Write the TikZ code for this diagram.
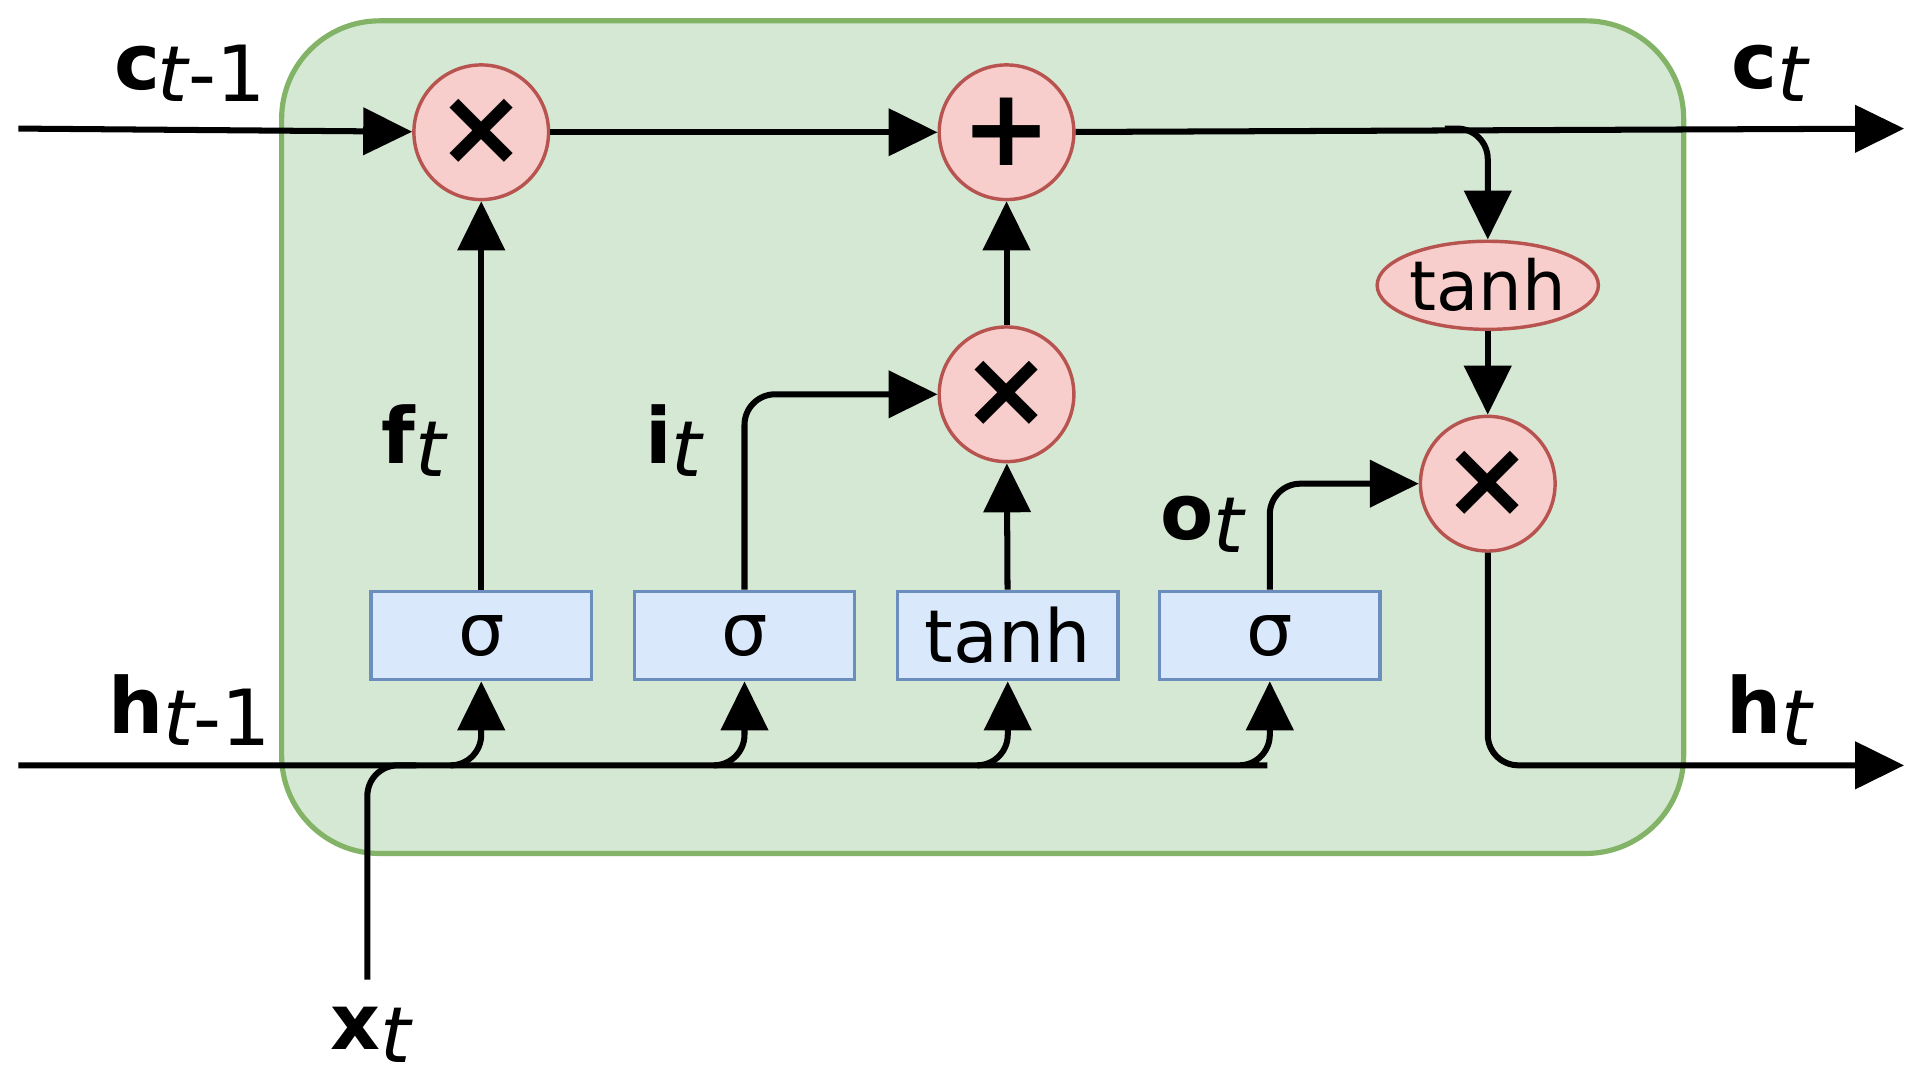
\documentclass[tikz,border=0pt]{standalone}
\usepackage{fontspec}
\setmainfont{DejaVu Sans}
\usetikzlibrary{arrows.meta,shapes.geometric}
\begin{document}
\begin{tikzpicture}[x=0.02cm,y=-0.02cm,
  ln/.style={line width=2.8pt,rounded corners=0.5cm},
  ar/.style={ln,-{Triangle[length=0.8cm,width=0.76cm]}},
  op/.style={circle,draw=red!40!brown!90,draw={rgb,255:red,184;green,84;blue,80},line width=1.6pt,fill={rgb,255:red,248;green,206;blue,204},minimum size=2.2cm,inner sep=0pt,font=\fontsize{50}{50}\selectfont\bfseries},
  bx/.style={rectangle,draw={rgb,255:red,108;green,142;blue,191},line width=1.6pt,fill={rgb,255:red,218;green,232;blue,252},minimum width=3.6cm,minimum height=1.44cm,inner sep=0pt,font=\fontsize{34}{34}\selectfont},
  lb/.style={font=\fontsize{36}{36}\selectfont}]
\useasboundingbox (0,0) rectangle (1568,880);
\draw[line width=2.4pt,draw={rgb,255:red,130;green,179;blue,102},fill={rgb,255:red,213;green,232;blue,212},rounded corners=1.6cm] (230,17) rectangle (1375,697);
\node[op] (m1) at (393,108) {×};
\node[op] (pl) at (822,108) {+};
\node[op] (m2) at (822,322) {×};
\node[op] (m3) at (1215,395) {×};
\node[ellipse,draw={rgb,255:red,184;green,84;blue,80},line width=1.6pt,fill={rgb,255:red,248;green,206;blue,204},minimum width=3.56cm,minimum height=1.44cm,inner sep=0pt,font=\fontsize{32}{32}\selectfont] (th) at (1215,233) {tanh};
\node[bx] (s1) at (393,519) {σ};
\node[bx] (s2) at (608,519) {σ};
\node[bx] (tb) at (823,519) {tanh};
\node[bx] (s3) at (1037,519) {σ};
\coordinate (cin) at (15,105);
\coordinate (cout) at (1555,105);
\coordinate (hin) at (15,625);
\coordinate (hout) at (1555,625);
\coordinate (xin) at (300,800);
\draw[ar] (cin) -- (m1);
\draw[ar] (m1) -- (pl);
\draw[ar] (pl) -- (cout);
\draw[ar] (1180,105) -| (th.north);
\draw[ar] (th) -- (m3);
\draw[ar] (m3.south) |- (hout);
\draw[ar] (hin) -- (1010,625) -| (s3.south);
\draw[ar] (370,625) -| (s1.south);
\draw[ar] (585,625) -| (s2.south);
\draw[ar] (800,625) -| (tb.south);
\draw[ln] (xin) |- (340,625);
\draw[ar] (s1) -- (m1);
\draw[ar] (s2.north) |- (m2.west);
\draw[ar] (tb) -- (m2);
\draw[ar] (m2) -- (pl);
\draw[ar] (s3.north) |- (m3.west);
\node[lb] (lc1) at (155,60) {\textbf{c}\textit{\kern-1pt\raisebox{-0.3ex}{t}}\raisebox{-0.3ex}{-1}};
\node[lb] (lc2) at (1445,60) {\textbf{c}\textit{\raisebox{-0.3ex}{t}}};
\node[lb] (lh1) at (155,580) {\textbf{h}\textit{\raisebox{-0.3ex}{t}}\raisebox{-0.3ex}{-1}};
\node[lb] (lh2) at (1445,580) {\textbf{h}\textit{\raisebox{-0.3ex}{t}}};
\node[lb] (lx) at (303,845) {\textbf{x}\textit{\raisebox{-0.3ex}{t}}};
\node[lb] (lf) at (338,360) {\textbf{f}\textit{\raisebox{-0.3ex}{t}}};
\node[lb] (li) at (550,360) {\textbf{i}\textit{\raisebox{-0.3ex}{t}}};
\node[lb] (lo) at (982,428) {\textbf{o}\textit{\raisebox{-0.3ex}{t}}};
\end{tikzpicture}
\end{document}
